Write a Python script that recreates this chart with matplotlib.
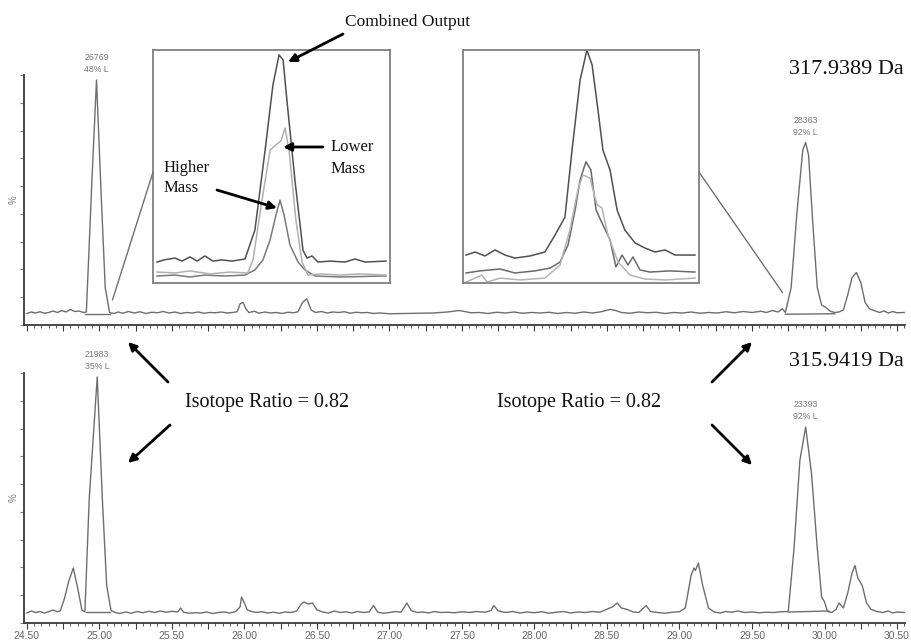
import numpy as np
import matplotlib
matplotlib.use("Agg")
import matplotlib.pyplot as plt
from matplotlib.ticker import MultipleLocator, FixedLocator, FuncFormatter
from matplotlib.patches import ConnectionPatch, FancyArrowPatch

# ---------------- data ----------------
# Upper chromatogram, 317.9389 Da (time in min, intensity in %)
top_time = [24.50, 24.53, 24.56, 24.59, 24.62, 24.65, 24.68, 24.71, 24.74, 24.77, 24.80, 24.83,
            24.86, 24.89, 24.91, 24.95, 24.98, 25.01, 25.04, 25.07, 25.10, 25.13, 25.16, 25.20,
            25.24, 25.28, 25.32, 25.36, 25.40, 25.44, 25.48, 25.52, 25.56, 25.60, 25.64, 25.68,
            25.72, 25.76, 25.80, 25.84, 25.88, 25.92, 25.95, 25.97, 25.99, 26.01, 26.03, 26.07,
            26.10, 26.14, 26.18, 26.22, 26.26, 26.30, 26.34, 26.37, 26.40, 26.43, 26.46, 26.49,
            26.53, 26.57, 26.61, 26.65, 26.69, 26.73, 26.77, 26.81, 26.85, 26.89, 26.93, 27.00,
            27.10, 27.20, 27.30, 27.40, 27.48, 27.52, 27.56, 27.62, 27.68, 27.74, 27.80, 27.86,
            27.92, 27.98, 28.04, 28.10, 28.16, 28.22, 28.28, 28.34, 28.40, 28.46, 28.52, 28.56,
            28.60, 28.66, 28.72, 28.78, 28.84, 28.90, 28.96, 29.02, 29.08, 29.14, 29.20, 29.26,
            29.32, 29.38, 29.44, 29.50, 29.56, 29.60, 29.64, 29.68, 29.71, 29.73, 29.77, 29.81,
            29.85, 29.87, 29.89, 29.92, 29.95, 29.98, 30.01, 30.04, 30.07, 30.10, 30.13, 30.16,
            30.19, 30.22, 30.25, 30.28, 30.31, 30.34, 30.38, 30.41, 30.44, 30.47, 30.50, 30.55]
top_int = [4.6, 5.2, 4.8, 5.3, 4.7, 5.0, 5.6, 5.0, 5.8, 5.2, 6.2, 5.4,
           5.6, 5.0, 5.2, 60, 98, 55, 15, 5.0, 4.6, 5.2, 4.7, 5.4,
           4.8, 5.3, 4.6, 5.1, 4.9, 5.4, 4.8, 5.2, 4.6, 5.0, 4.8, 5.2,
           4.7, 5.0, 4.9, 5.2, 4.8, 5.0, 5.3, 8.5, 9.0, 6.5, 5.0, 5.5,
           4.7, 5.2, 4.8, 5.0, 4.6, 5.1, 4.9, 5.3, 9.0, 10.5, 6.0, 5.0,
           5.4, 4.8, 5.2, 5.0, 5.3, 4.7, 5.1, 4.9, 5.0, 4.6, 4.8, 4.5,
           4.6, 4.7, 4.8, 5.2, 5.8, 5.4, 4.9, 5.0, 4.6, 5.1, 4.8, 5.2,
           4.7, 5.0, 4.8, 5.1, 4.6, 5.0, 4.7, 5.2, 4.8, 5.3, 6.2, 5.8,
           5.0, 4.7, 5.2, 4.9, 5.1, 4.6, 5.0, 4.8, 5.2, 4.7, 5.0, 4.8,
           5.3, 4.9, 5.4, 5.0, 5.5, 5.0, 5.8, 5.2, 6.5, 5.0, 15, 45,
           70, 73, 68, 40, 15, 8, 7, 5.5, 5.0, 5.2, 6.0, 12,
           19, 21, 17, 9, 6.5, 5.8, 5.0, 5.6, 4.8, 5.4, 4.9, 5.0]
top_base_segments = [((24.90, 25.07), (4.6, 4.6)), ((29.73, 30.07), (4.3, 4.5))]
top_labels = [(24.98, 98, "26769\n48% L"), (29.87, 73, "28363\n92% L")]

# Lower chromatogram, 315.9419 Da
bot_time = [24.50, 24.53, 24.56, 24.59, 24.62, 24.65, 24.68, 24.71, 24.73, 24.76, 24.79, 24.82,
            24.85, 24.88, 24.90, 24.93, 24.985, 25.02, 25.05, 25.08, 25.11, 25.14, 25.18, 25.22,
            25.26, 25.30, 25.34, 25.38, 25.42, 25.46, 25.50, 25.54, 25.56, 25.58, 25.62, 25.66,
            25.70, 25.74, 25.78, 25.82, 25.86, 25.90, 25.94, 25.97, 25.98, 26.00, 26.02, 26.05,
            26.08, 26.12, 26.16, 26.20, 26.24, 26.28, 26.32, 26.36, 26.39, 26.41, 26.44, 26.47,
            26.50, 26.54, 26.58, 26.62, 26.66, 26.70, 26.74, 26.78, 26.82, 26.86, 26.89, 26.92,
            26.96, 27.00, 27.04, 27.08, 27.12, 27.15, 27.19, 27.23, 27.27, 27.31, 27.35, 27.40,
            27.45, 27.50, 27.55, 27.60, 27.66, 27.70, 27.72, 27.75, 27.80, 27.85, 27.90, 27.95,
            28.00, 28.05, 28.10, 28.15, 28.20, 28.25, 28.30, 28.35, 28.40, 28.45, 28.50, 28.54,
            28.57, 28.60, 28.64, 28.68, 28.72, 28.77, 28.80, 28.85, 28.90, 28.95, 29.00, 29.04,
            29.08, 29.10, 29.11, 29.13, 29.16, 29.20, 29.24, 29.28, 29.32, 29.36, 29.40, 29.45,
            29.50, 29.55, 29.60, 29.65, 29.70, 29.75, 29.79, 29.83, 29.87, 29.91, 29.95, 29.98,
            30.00, 30.02, 30.05, 30.08, 30.10, 30.13, 30.16, 30.19, 30.21, 30.23, 30.26, 30.29,
            30.32, 30.36, 30.40, 30.44, 30.47, 30.50, 30.55]
bot_int = [4.0, 4.8, 4.2, 4.6, 4.0, 4.5, 5.2, 4.5, 4.8, 10, 17, 22,
           14, 5.0, 4.5, 50, 98.4, 50, 15, 5.0, 4.2, 3.8, 4.4, 3.9,
           4.6, 4.1, 4.7, 4.2, 4.8, 4.3, 4.7, 4.4, 6.0, 4.3, 3.9, 4.1,
           4.0, 4.4, 3.8, 4.2, 4.4, 4.0, 4.6, 6.5, 10.4, 8.0, 5.2, 4.6,
           4.2, 4.5, 4.0, 4.3, 3.9, 4.4, 4.2, 4.8, 7.5, 8.4, 7.6, 8.0,
           5.2, 4.4, 4.0, 4.8, 4.2, 4.5, 4.0, 4.6, 4.2, 4.4, 7.0, 4.3,
           3.9, 4.2, 4.6, 4.3, 8.0, 5.0, 4.2, 4.4, 4.0, 4.6, 4.2, 4.3,
           4.1, 4.5, 4.2, 4.6, 4.3, 5.0, 7.0, 4.8, 4.2, 4.6, 4.0, 4.4,
           4.1, 4.5, 3.9, 4.3, 4.6, 4.0, 4.4, 4.2, 4.6, 4.3, 5.5, 6.5,
           8.0, 6.0, 5.4, 4.4, 4.2, 7.0, 4.6, 4.2, 3.9, 4.3, 4.5, 6.0,
           19, 22, 21, 24, 15, 6.0, 4.4, 4.0, 4.6, 4.3, 4.8, 4.2,
           4.4, 4.1, 4.3, 4.2, 4.5, 4.6, 30, 65, 78.4, 60, 30, 10.4,
           8.5, 4.6, 4.2, 5.5, 8.0, 6.0, 12, 20, 23, 18, 15, 8.0,
           5.5, 4.6, 4.2, 4.8, 4.0, 4.4, 4.2]
bot_base_segments = [((24.91, 25.07), (4.4, 4.4)), ((29.75, 30.03), (4.4, 4.8))]
bot_labels = [(24.985, 98.4, "21983\n35% L"), (29.87, 78.4, "23393\n92% L")]

# Inset 1 (peak near 24.98) – relative scan position, relative intensity
in1_comb_x = [1.7, 5, 9.3, 12.2, 15.6, 18.6, 21.9, 25.3, 29.1, 33.3, 38.8, 43, 47.3, 50.6, 53.2,
              54.9, 56.5, 59.9, 63.3, 65, 67.1, 69.6, 74.7, 81, 85.2, 89.5, 98.3]
in1_comb_y = [9, 10, 10.7, 9.4, 11.2, 9.4, 11.6, 9.4, 9.9, 9.4, 10.3, 22.7, 57, 85, 97.9,
              95.7, 78.5, 44, 14, 10.7, 11.6, 9, 9.4, 9, 10.3, 9, 9.4]
in1_low_x = [1.7, 9.3, 15.6, 24, 32.5, 40, 42.2, 46, 49.4, 51.5, 54, 55.7, 57.4, 60.3, 62.9,
             65.4, 70.5, 78.9, 87.3, 98.3]
in1_low_y = [4.7, 4.3, 5.2, 3.9, 4.7, 4.3, 9.9, 35.6, 57, 59, 61, 66.5, 57, 27, 9,
             3.4, 3.9, 3.4, 3.9, 3.4]
in1_high_x = [1.7, 9.3, 15.6, 21.9, 30.4, 38.8, 43, 46.4, 49.4, 51.9, 53.6, 55.3, 57.8, 61.2,
              64.1, 68.4, 78.9, 98.3]
in1_high_y = [3, 3.4, 2.6, 3.4, 3, 3.4, 5.6, 9.9, 18.5, 29.2, 35.6, 29.2, 16.3, 9,
              5.6, 3, 2.6, 3]

# Inset 2 (peak near 29.87)
in2_comb_x = [1.3, 5.1, 9.3, 13.6, 17.8, 22, 28.4, 34.7, 39, 43.2, 46.2, 49.6, 52.5, 54.7,
              57.2, 59.3, 62.3, 65.3, 68.6, 72.9, 77.1, 81.4, 85.6, 89.8, 98.3]
in2_comb_y = [12, 13.3, 11.6, 14.2, 12, 10.7, 11.6, 13.3, 20.6, 28.3, 57, 87, 100, 93.6,
              74.2, 57, 48.5, 31.3, 22.7, 17.2, 15, 13.3, 14.2, 12, 12]
in2_high_x = [1.3, 7.2, 15.7, 22, 30.5, 36.9, 41.1, 44.5, 47.5, 49.6, 52.1, 54.2, 56.4, 59.3,
              62.3, 64.8, 67.4, 69.9, 72, 75, 79.2, 87.7, 98.3]
in2_high_y = [4.3, 5.2, 6, 4.3, 5.2, 6.4, 9, 16.3, 31.3, 44.2, 52, 48.5, 31.3, 24.9,
              18.5, 6.9, 12, 7.7, 11.2, 5.6, 4.7, 5.2, 4.7]
in2_low_x = [1.3, 8, 10.2, 15.7, 24.2, 34.7, 41.1, 45.3, 48.7, 50.8, 53.8, 56.8, 58.9, 61.4,
             65.7, 70.8, 77.1, 85.6, 98.3]
in2_low_y = [0.4, 3.4, 0.4, 2.1, 1.3, 2.1, 7.7, 22.7, 40, 46.4, 45, 33.5, 32.2, 20.6,
             9, 3.4, 1.7, 1.3, 2.1]

x_tick_labels = ["24.50", "25.00", "25.50", "26.00", "26.50", "27.00", "27.50",
                 "28.00", "28.50", "29.00", "29.50", "30.00", "30.50"]

# ---------------- figure ----------------
W, H = 912, 643
fig = plt.figure(figsize=(W / 100, H / 100), dpi=100)
fig.patch.set_facecolor("white")


def px_axes(x0, y0, x1, y1):
    """axes from pixel box (top-left origin)"""
    return fig.add_axes([x0 / W, 1 - y1 / H, (x1 - x0) / W, (y1 - y0) / H])


TRACE = "#6e6e6e"
AXC = "#3a3a3a"
SANS = "Liberation Sans"
SERIF = "Liberation Serif"

ax_top = px_axes(24, 75, 905, 325)
ax_bot = px_axes(24, 373, 905, 623)

for ax, t, v, segs, labs in [(ax_top, top_time, top_int, top_base_segments, top_labels),
                              (ax_bot, bot_time, bot_int, bot_base_segments, bot_labels)]:
    ax.plot(t, v, color=TRACE, lw=1.0)
    for (xs, ys) in segs:
        ax.plot(xs, ys, color=TRACE, lw=1.0)
    for (lx, ly, txt) in labs:
        ax.annotate(txt, xy=(lx, ly), xytext=(0, 4), textcoords="offset points",
                    ha="center", va="bottom", fontsize=6.3, color="#777777",
                    family=SANS, linespacing=1.45)
    ax.set_xlim(24.48, 30.555)
    ax.set_ylim(0, 100)
    ax.set_facecolor("none")
    for s in ["top", "right"]:
        ax.spines[s].set_visible(False)
    for s in ["left", "bottom"]:
        ax.spines[s].set_color(AXC)
        ax.spines[s].set_linewidth(1.3)
    ax.xaxis.set_major_locator(MultipleLocator(0.25))
    ax.xaxis.set_minor_locator(MultipleLocator(0.05))
    ax.yaxis.set_major_locator(FixedLocator(np.linspace(0, 100, 10)))
    ax.tick_params(axis="x", which="major", length=4, width=0.8, color=AXC, direction="out")
    ax.tick_params(axis="x", which="minor", length=2.2, width=0.6, color=AXC, direction="out")
    ax.tick_params(axis="y", which="major", length=3, width=0.8, color="#888888",
                   direction="out", labelleft=False)
    ax.set_ylabel("%", fontsize=7, color="#777777", family=SANS, labelpad=1)

ax_top.tick_params(axis="x", labelbottom=False)
ax_bot.xaxis.set_major_formatter(
    FuncFormatter(lambda val, pos: x_tick_labels[int(round((val - 24.5) / 0.5))]
                  if abs((val - 24.5) / 0.5 - round((val - 24.5) / 0.5)) < 1e-6
                  and 0 <= int(round((val - 24.5) / 0.5)) < len(x_tick_labels) else ""))
ax_bot.tick_params(axis="x", labelsize=7.5, labelcolor="#666666", pad=2)
for lab in ax_bot.get_xticklabels():
    lab.set_family(SANS)

# ---------------- insets ----------------
in1 = px_axes(153, 50, 390, 283)
in2 = px_axes(463, 50, 699, 283)
for ax, series in [(in1, [(in1_comb_x, in1_comb_y, "#505050"),
                          (in1_high_x, in1_high_y, "#7a7a7a"),
                          (in1_low_x, in1_low_y, "#b0b0b0")]),
                   (in2, [(in2_comb_x, in2_comb_y, "#505050"),
                          (in2_high_x, in2_high_y, "#6a6a6a"),
                          (in2_low_x, in2_low_y, "#b4b4b4")])]:
    for xs, ys, c in series:
        ax.plot(xs, ys, color=c, lw=1.1)
    ax.set_xlim(0, 100)
    ax.set_ylim(0, 100)
    ax.set_xticks([])
    ax.set_yticks([])
    ax.set_facecolor("white")
    for s in ax.spines.values():
        s.set_color("#808080")
        s.set_linewidth(1.3)

# connector lines from chromatogram to insets
for (xyA, axA, xyB, axB) in [((25.09, 10), ax_top, (0, 0.476), in1),
                              ((29.71, 13), ax_top, (1, 0.476), in2)]:
    con = ConnectionPatch(xyA=xyA, coordsA=axA.transData, xyB=xyB, coordsB=axB.transAxes,
                          color="#707070", lw=1.0)
    fig.add_artist(con)


# ---------------- annotations ----------------
def ftext(x, y, s, size, ha="left", va="center", **kw):
    fig.text(x / W, 1 - y / H, s, fontsize=size, ha=ha, va=va, family=SERIF,
             color="#111111", **kw)


def farrow(x0, y0, x1, y1, lw=2.0, ms=12):
    fig.add_artist(FancyArrowPatch(
        posA=(x0 / W, 1 - y0 / H), posB=(x1 / W, 1 - y1 / H), transform=fig.transFigure,
        arrowstyle="-|>", mutation_scale=ms, color="black", lw=lw, shrinkA=0, shrinkB=0))


ftext(345, 22, "Combined Output", 12.5)
farrow(343, 34, 288, 62)
ftext(331, 158, "Lower\nMass", 12, linespacing=1.45)
farrow(323, 147, 283, 147)
ftext(164, 178, "Higher\nMass", 12, linespacing=1.3)
farrow(217, 190, 277, 208)

ftext(185, 402, "Isotope Ratio = 0.82", 14.5)
ftext(497, 402, "Isotope Ratio = 0.82", 14.5)
farrow(168, 382, 128, 342)
farrow(170, 425, 128, 463)
farrow(712, 382, 752, 342)
farrow(712, 425, 752, 465)

ftext(789, 70, "317.9389 Da", 16)
ftext(789, 362, "315.9419 Da", 16)

fig.savefig("out.png", dpi=100)
